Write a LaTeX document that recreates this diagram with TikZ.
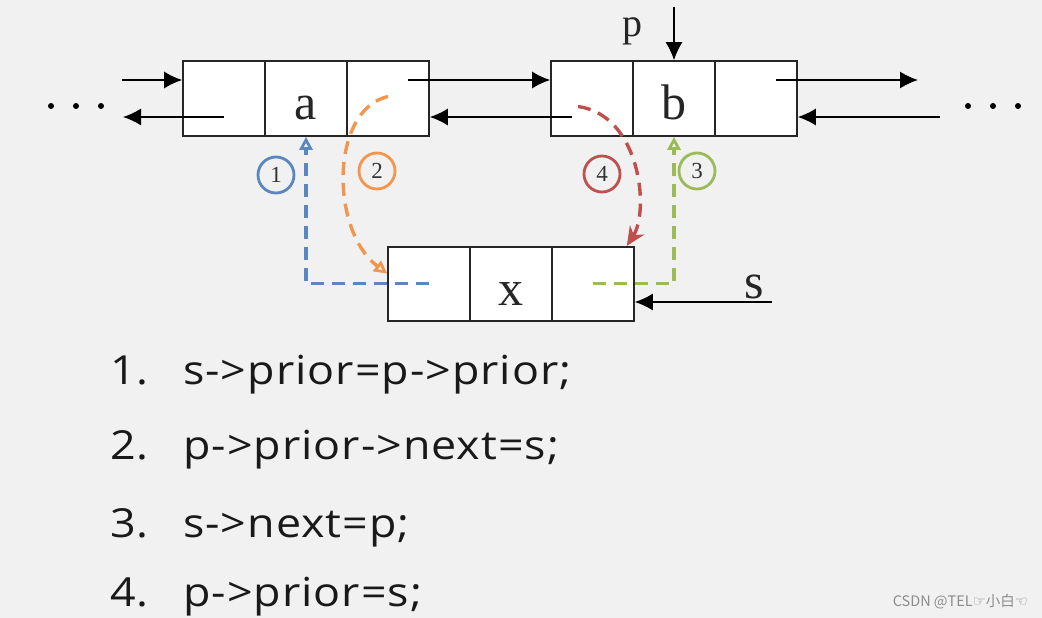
\documentclass[tikz,border=0pt]{standalone}
\usepackage{fontspec}
\usetikzlibrary{arrows.meta}
\newfontfamily\codefont{Open Sans}[FakeStretch=1.12,LetterSpace=2.5]
\newfontfamily\cjkfont{Noto Sans CJK SC}
\newfontfamily\symfont{DejaVu Sans}
\newfontfamily\lblfont{Liberation Serif}
\definecolor{bg}{HTML}{F1F1F1}
\definecolor{cblue}{HTML}{5B87C0}
\definecolor{corange}{HTML}{F2964E}
\definecolor{cred}{HTML}{C0504D}
\definecolor{cgreen}{HTML}{9BBB59}
\tikzset{
  cell/.style={draw=black!85, fill=white, line width=1.6pt, minimum width=82pt, minimum height=75pt, inner sep=0pt, text height=43pt, text depth=0pt, font=\lblfont\fontsize{50}{50}\selectfont, text=black!85},
  ptr/.style={draw=black, line width=1.5pt, -{Latex[length=18pt,width=17pt]}},
  dsh/.style={line width=3.4pt, dash pattern=on 13pt off 8pt},
  otip/.style={-{Triangle[open,length=13pt,width=13pt,line width=2.8pt]}},
  num/.style={circle, draw, line width=2.8pt, minimum size=36pt, inner sep=0pt, fill=none, font=\lblfont\fontsize{23}{23}\selectfont, text=black!80},
  code/.style={anchor=base west, inner sep=0pt, font=\codefont\fontsize{40}{40}\selectfont, text=black!90},
  lbl/.style={inner sep=0pt, anchor=base, text=black!85}
}
\begin{document}
\begin{tikzpicture}[x=1pt,y=-1pt]
\fill[bg] (0,0) rectangle (1042,618);
\useasboundingbox (0,0) rectangle (1042,618);
% node a
\node[cell] (a1) at (224,98.5) {};
\node[cell] (a2) at (306,98.5) {a};
\node[cell] (a3) at (388,98.5) {};
% node b
\node[cell] (b1) at (592,98.5) {};
\node[cell] (b2) at (674,98.5) {b};
\node[cell] (b3) at (756,98.5) {};
% node x
\node[cell, minimum height=74pt] (x1) at (429,283.7) {};
\node[cell, minimum height=74pt] (x2) at (511,283.7) {x};
\node[cell, minimum height=74pt] (x3) at (593,283.7) {};
% free ends
\coordinate (inL) at (122,80);
\coordinate (outL) at (123,117);
\coordinate (outR) at (918,80);
\coordinate (inR) at (940,117);
\coordinate (ptop) at (674,7);
\coordinate (sstart) at (772,302);
% black pointers
\draw[ptr] (inL) -- ([yshift=18.5pt]a1.west);
\draw[ptr] ([yshift=-18.5pt]a1.center) -- (outL);
\draw[ptr] ([xshift=20pt,yshift=18.5pt]a3.center) -- ([yshift=18.5pt]b1.west);
\draw[ptr] ([xshift=-20pt,yshift=-18.5pt]b1.center) -- ([yshift=-18.5pt]a3.east);
\draw[ptr] ([xshift=20pt,yshift=18.5pt]b3.center) -- (outR);
\draw[ptr] (inR) -- ([yshift=-18.5pt]b3.east);
\draw[ptr] (ptop) -- (b2.north);
\draw[ptr] (sstart) -- ([yshift=-18.3pt]x3.east);
\node[lbl, font=\lblfont\fontsize{40}{40}\selectfont] (plbl) at (632,37) {p};
\node[lbl, font=\lblfont\fontsize{50}{50}\selectfont] (slbl) at (754,298) {s};
% dots
\foreach \xx in {51,76,101} \fill (\xx,106) circle (3pt);
\foreach \xx in {968,993,1018} \fill (\xx,106) circle (3pt);
% dashed colored
\draw[dsh, cblue, otip] (x1.center) -| (a2.south);
\draw[dsh, cgreen, otip] (x3.center) -| (b2.south);
\draw[dsh, corange, otip] ([yshift=2pt]a3.center) .. controls (330,110) and (330,230) .. ([yshift=10pt]x1.west);
\draw[dsh, cred, -{Stealth[length=19pt,width=17pt]}] ([xshift=-14pt,yshift=-8pt]b1.center) .. controls (640,115) and (650,210) .. ([xshift=-8pt]x3.north east);
\node[num, draw=cblue] (c1) at (276,175) {1};
\node[num, draw=corange] (c2) at (377,171) {2};
\node[num, draw=cred] (c4) at (602,174) {4};
\node[num, draw=cgreen] (c3) at (697,171) {3};
% code lines
\node[code] (n1) at (110,384) {1.};
\node[code] (t1) at (183,384) {s->prior=p->prior;};
\node[code] (n2) at (110,459) {2.};
\node[code] (t2) at (183,459) {p->prior->next=s;};
\node[code] (n3) at (110,537) {3.};
\node[code] (t3) at (183,537) {s->next=p;};
\node[code] (n4) at (110,606) {4.};
\node[code] (t4) at (183,606) {p->prior=s;};
% watermark
\node[anchor=base east, inner sep=0pt, text=black!45, font=\fontsize{14.5}{14.5}\selectfont] (wm) at (1028,606) {\cjkfont CSDN @TEL\symfont ☞\cjkfont 小白\symfont ☜};
\end{tikzpicture}
\end{document}
